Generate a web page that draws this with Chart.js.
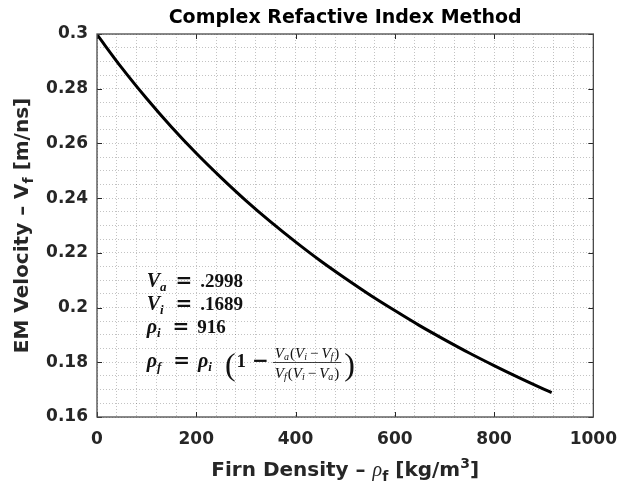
<!DOCTYPE html>
<html>
<head>
  <title>Complex Refactive Index Method</title>
  <script src="https://cdn.jsdelivr.net/npm/chart.js"></script>
  <style>
    body { margin: 0; background: #fff; }
    #wrap { width: 629px; height: 485px; position: relative; }
  </style>
</head>
<body>
  <div id="wrap"><canvas id="velChart"></canvas></div>

  <script>
    // values: firn density [kg/m3] vs EM velocity [m/ns]
    const density  = [0, 50, 100, 150, 200, 250, 300, 350, 400, 450, 500, 550, 600, 650, 700, 750, 800, 850, 900, 916];
    const velocity = [0.2998, 0.2876, 0.2764, 0.2660, 0.2564, 0.2475, 0.2391, 0.2313, 0.2240, 0.2171,
                      0.2107, 0.2046, 0.1989, 0.1934, 0.1883, 0.1834, 0.1788, 0.1744, 0.1702, 0.1689];

    const xTickLabels = [0, 200, 400, 600, 800, 1000];
    const yTickLabels = [0.16, 0.18, 0.2, 0.22, 0.24, 0.26, 0.28, 0.3];

    const titleText = 'Complex Refactive Index Method';
    const axisColor = '#262626';
    const sans = '"DejaVu Sans", sans-serif';
    const serif = '"Liberation Serif", "DejaVu Serif", serif';

    // minor grid positions (5 per major on x, 4 per major on y)
    const xGrid = [];
    for (let v = 0; v <= 1000; v += 40) xGrid.push(v);
    const yGrid = [];
    for (let i = 0; i <= 28; i++) yGrid.push(+(0.16 + i * 0.005).toFixed(3));

    function isMajor(list, v) {
      return list.find(t => Math.abs(t - v) < 1e-9);
    }

    // draw a run of text pieces with their own fonts / baseline shifts / gaps
    function segWidth(ctx, s) {
      if (s.g) return s.g;
      ctx.font = s.f;
      return ctx.measureText(s.t).width;
    }
    function richWidth(ctx, segs) {
      return segs.reduce((w, s) => w + segWidth(ctx, s), 0);
    }
    function drawRich(ctx, segs, x, y, align) {
      let cx = align === 'center' ? x - richWidth(ctx, segs) / 2 : x;
      segs.forEach(s => {
        if (!s.g) {
          ctx.font = s.f;
          ctx.fillText(s.t, cx, y + (s.dy || 0));
        }
        cx += segWidth(ctx, s);
      });
      return cx;
    }

    const decorations = {
      id: 'decorations',
      afterDatasetsDraw(chart) {
        const ctx = chart.ctx;
        const a = chart.chartArea;
        const xs = chart.scales.x, ys = chart.scales.y;
        ctx.save();
        ctx.strokeStyle = axisColor;
        ctx.lineWidth = 1;
        // inward tick marks on all four sides
        ctx.beginPath();
        xTickLabels.forEach(v => {
          const px = Math.round(xs.getPixelForValue(v)) + 0.5;
          ctx.moveTo(px, a.bottom); ctx.lineTo(px, a.bottom - 5);
          ctx.moveTo(px, a.top); ctx.lineTo(px, a.top + 5);
        });
        yTickLabels.forEach(v => {
          const py = Math.round(ys.getPixelForValue(v)) + 0.5;
          ctx.moveTo(a.left, py); ctx.lineTo(a.left + 5, py);
          ctx.moveTo(a.right, py); ctx.lineTo(a.right - 5, py);
        });
        ctx.stroke();
        ctx.lineWidth = 1.3;
        ctx.strokeStyle = '#4a4a4a';
        ctx.strokeRect(a.left, a.top, a.right - a.left, a.bottom - a.top);
        ctx.restore();
      },
      afterDraw(chart) {
        const ctx = chart.ctx;
        const a = chart.chartArea;
        const midX = (a.left + a.right) / 2;
        const midY = (a.top + a.bottom) / 2;
        ctx.save();
        ctx.fillStyle = '#000';
        ctx.textBaseline = 'alphabetic';

        // title
        ctx.font = 'bold 19px ' + sans;
        ctx.textAlign = 'center';
        ctx.fillText(titleText, midX, 23);
        ctx.textAlign = 'left';

        // x axis title
        ctx.fillStyle = axisColor;
        const big = 'bold 20px ' + sans, sub = 'bold 14px ' + sans;
        drawRich(ctx, [
          { t: 'Firn Density \u2013 ', f: big },
          { t: '\u03c1', f: 'italic 20px ' + serif },
          { t: 'f', f: sub, dy: 5 },
          { t: ' [kg/m', f: big },
          { t: '3', f: sub, dy: -8 },
          { t: ']', f: big }
        ], midX, 476, 'center');

        // y axis title
        ctx.save();
        ctx.translate(28, midY);
        ctx.rotate(-Math.PI / 2);
        drawRich(ctx, [
          { t: 'EM Velocity \u2013 V', f: big },
          { t: 'f', f: sub, dy: 5 },
          { t: ' [m/ns]', f: big }
        ], 0, 0, 'center');
        ctx.restore();

        // equation annotation
        ctx.fillStyle = '#111';
        const mi = 'italic bold 20px ' + serif, mn = 'bold 19px ' + serif;
        const ms = 'italic bold 13px ' + serif;
        const eq = 'bold 20px "DejaVu Serif", serif';
        const x0 = chart.scales.x.getPixelForValue(100);
        const eqSign = [{ g: 9 }, { t: '=', f: eq }, { g: 8 }];
        drawRich(ctx, [{ t: 'V', f: mi }, { t: 'a', f: ms, dy: 4 }, ...eqSign, { t: '.2998', f: mn }], x0, a.top + 253, 'left');
        drawRich(ctx, [{ t: 'V', f: mi }, { t: 'i', f: ms, dy: 4 }, { g: 3 }, ...eqSign, { t: '.1689', f: mn }], x0, a.top + 276, 'left');
        drawRich(ctx, [{ t: '\u03c1', f: mi }, { t: 'i', f: ms, dy: 4 }, { g: 3 }, ...eqSign, { t: '916', f: mn }], x0, a.top + 299, 'left');

        const lineY = a.top + 333;
        let cx = drawRich(ctx, [
          { t: '\u03c1', f: mi }, { t: 'f', f: ms, dy: 4 }, { g: 3 }, ...eqSign,
          { t: '\u03c1', f: mi }, { t: 'i', f: ms, dy: 4 }, { g: 13 }
        ], x0, lineY, 'left');
        ctx.font = '32px ' + serif;
        ctx.fillText('(', cx, lineY + 8);
        cx += ctx.measureText('(').width + 1;
        cx = drawRich(ctx, [{ t: '1', f: mn }, { g: 6 }, { t: '\u2212', f: eq }], cx, lineY, 'left') + 4;

        const fi = 'italic 15px ' + serif, fs = 'italic 10px ' + serif, fn = '15px ' + serif;
        const minus = [{ g: 3 }, { t: '\u2212', f: fn }, { g: 3 }];
        const num = [
          { t: 'V', f: fi }, { t: 'a', f: fs, dy: 2 }, { g: 1 }, { t: '(', f: fn }, { t: 'V', f: fi }, { t: 'i', f: fs, dy: 2 },
          ...minus, { t: 'V', f: fi }, { t: 'f', f: fs, dy: 2 }, { g: 1 }, { t: ')', f: fn }
        ];
        const den = [
          { t: 'V', f: fi }, { t: 'f', f: fs, dy: 2 }, { g: 1 }, { t: '(', f: fn }, { t: 'V', f: fi }, { t: 'i', f: fs, dy: 2 },
          ...minus, { t: 'V', f: fi }, { t: 'a', f: fs, dy: 2 }, { g: 1 }, { t: ')', f: fn }
        ];
        const fw = Math.max(richWidth(ctx, num), richWidth(ctx, den)) + 4;
        drawRich(ctx, num, cx + fw / 2, lineY - 9, 'center');
        drawRich(ctx, den, cx + fw / 2, lineY + 11, 'center');
        ctx.fillRect(cx, lineY - 5, fw, 0.8);
        cx += fw + 3;
        ctx.font = '32px ' + serif;
        ctx.fillText(')', cx, lineY + 8);
        ctx.restore();
      }
    };

    const ctx = document.getElementById('velChart').getContext('2d');
    new Chart(ctx, {
      type: 'scatter',
      data: {
        datasets: [{
          data: density.map((d, i) => ({ x: d, y: velocity[i] })),
          showLine: true,
          borderColor: '#000',
          borderWidth: 3,
          pointRadius: 0,
          cubicInterpolationMode: 'monotone',
          fill: false
        }]
      },
      options: {
        responsive: true,
        maintainAspectRatio: false,
        animation: false,
        layout: { padding: { top: 34, right: 28, left: 0, bottom: 0 } },
        plugins: {
          legend: { display: false },
          title: { display: false },
          tooltip: { enabled: false }
        },
        scales: {
          x: {
            type: 'linear',
            min: 0,
            max: 1000,
            afterBuildTicks: s => { s.ticks = xGrid.map(v => ({ value: v })); },
            afterFit: s => { s.height = 68; },
            grid: { color: 'rgba(38,38,38,0.28)', drawTicks: false, lineWidth: 1 },
            border: { display: false, dash: [1, 2] },
            ticks: {
              autoSkip: false,
              maxRotation: 0,
              padding: 12,
              color: axisColor,
              font: { family: 'DejaVu Sans', size: 17, weight: 'bold' },
              callback: v => { const m = isMajor(xTickLabels, v); return m === undefined ? '' : String(m); }
            }
          },
          y: {
            type: 'linear',
            min: 0.16,
            max: 0.3,
            afterBuildTicks: s => { s.ticks = yGrid.map(v => ({ value: v })); },
            afterFit: s => { s.width = 97; },
            grid: { color: 'rgba(38,38,38,0.28)', drawTicks: false, lineWidth: 1 },
            border: { display: false, dash: [1, 2] },
            ticks: {
              autoSkip: false,
              padding: 9,
              color: axisColor,
              font: { family: 'DejaVu Sans', size: 17, weight: 'bold' },
              callback: v => { const m = isMajor(yTickLabels, v); return m === undefined ? '' : String(m); }
            }
          }
        }
      },
      plugins: [decorations]
    });
  </script>
</body>
</html>
